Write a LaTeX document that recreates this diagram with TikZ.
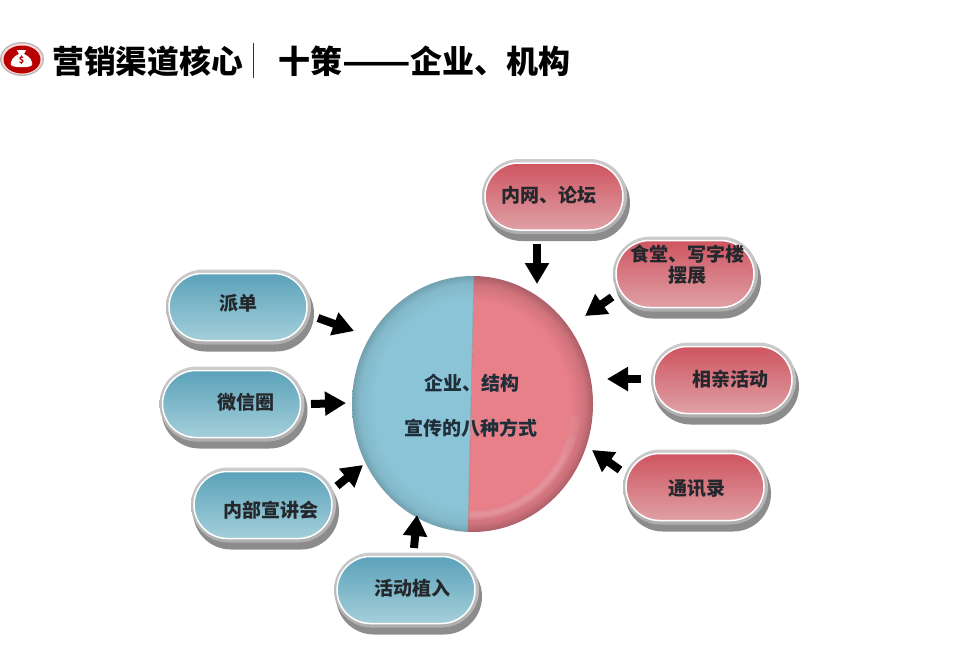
\documentclass[tikz,border=0pt]{standalone}
\usepackage{fontspec}
\usepackage{graphicx}
\setmainfont{Noto Sans CJK SC}
\usetikzlibrary{arrows.meta,shapes.geometric,shapes.misc}
\definecolor{rtop}{HTML}{CE5560}
\definecolor{rbot}{HTML}{E0A0A6}
\definecolor{btop}{HTML}{5BA2BA}
\definecolor{bbot}{HTML}{A4CFDA}
\definecolor{bluemain}{HTML}{8BC4D6}
\definecolor{pinkmain}{HTML}{E8808A}
\definecolor{inkdark}{HTML}{24282C}
\definecolor{hubink}{HTML}{1F2E38}
\pgfdeclareradialshading{bluedisc}{\pgfpoint{0bp}{0bp}}{color(0bp)=(bluemain); color(20.5bp)=(bluemain); color(23.5bp)=(bluemain!94!black); color(25bp)=(bluemain!82!black); color(50bp)=(bluemain!82!black)}
\pgfdeclareradialshading{pinkdisc}{\pgfpoint{0bp}{0bp}}{color(0bp)=(pinkmain); color(20bp)=(pinkmain); color(23.2bp)=(pinkmain!90!black); color(25bp)=(pinkmain!74!black); color(50bp)=(pinkmain!74!black)}
\tikzset{
  pillshadow/.style={rounded rectangle,inner sep=0pt,minimum width=146pt,minimum height=76pt,fill=black!45},
  pillrim/.style={rounded rectangle,inner sep=0pt,minimum width=145pt,minimum height=75pt,top color=black!20,bottom color=black!32},
  pillred/.style={rounded rectangle,inner sep=0pt,minimum width=138pt,minimum height=67pt,draw=white,line width=1.5pt,top color=rtop,bottom color=rbot},
  pillblue/.style={rounded rectangle,inner sep=0pt,minimum width=138pt,minimum height=67pt,draw=white,line width=1.5pt,top color=btop,bottom color=bbot},
  pilltext/.style={font=\fontsize{19}{21}\selectfont\bfseries,text=inkdark,inner sep=0pt,align=center},
  hubtext/.style={font=\fontsize{19}{21}\selectfont\bfseries,text=hubink,inner sep=0pt},
  arrowfat/.style={line width=8pt,black,-{Triangle[length=21pt,width=23pt]}},
  headtext/.style={font=\fontsize{31.8}{34}\selectfont\bfseries,text=black,inner sep=0pt,anchor=west},
}
\newcommand{\mypill}[4]{%
  \node[pillshadow] at (#2+3,#3+6.5) {};
  \node[pillrim] at (#2+.5,#3) {};
  \node[#4] (#1) at (#2,#3) {};
}
\begin{document}
\begin{tikzpicture}[x=1pt,y=-1pt]
\useasboundingbox (0,0) rectangle (960,646);
\fill[white] (0,0) rectangle (960,646);

% logo
\fill[black!28] (22,59) ellipse (22 and 17);
\fill[white!85!red] (22,59) ellipse (20.5 and 15.5);
\fill[red!72!black] (22,59.5) ellipse (18.5 and 14);
\fill[white] (17,50) -- (26,50) -- (24,54) .. controls (30,56) and (33,62) .. (32,65)
  .. controls (31,68) and (13,68) .. (11,65) .. controls (10,62) and (13,56) .. (19,54) -- cycle;
\node[font=\fontsize{9}{9}\selectfont\bfseries,text=red!72!black,inner sep=0pt] (dollar) at (21.5,60) {\$};

% heading
\node[headtext] (head1) at (52,61) {营销渠道核心};
\draw[black!80,line width=0.8pt] (253,43) -- (253,78);
\node[headtext,font=\fontsize{32}{34}\selectfont\bfseries] (head2) at (278,61) {十策\scalebox{1.25}[1]{——}企业、机构};

% pills
\mypill{neiwang}{554}{196.5}{pillred}
\mypill{shitang}{685}{274}{pillred}
\mypill{xiangqin}{723}{380}{pillred}
\mypill{tongxun}{695}{487}{pillred}
\mypill{paidan}{238}{307}{pillblue}
\mypill{weixin}{231.5}{404}{pillblue}
\mypill{neibu}{263}{505}{pillblue}
\mypill{huodong}{406}{590}{pillblue}

\node[pilltext] at (548.5,195) {内网、论坛};
\node[pilltext] at (687.5,254) {食堂、写字楼};
\node[pilltext] at (687,275) {摆展};
\node[pilltext] at (730,379) {相亲活动};
\node[pilltext] at (696.5,489) {通讯录};
\node[pilltext] at (238,303) {派单};
\node[pilltext] at (245.5,402) {微信圈};
\node[pilltext] at (270.5,510) {内部宣讲会};
\node[pilltext] at (412,588) {活动植入};

% hub
\node[ellipse,minimum width=241pt,minimum height=256pt,inner sep=0pt] (hub) at (472.5,404) {};
\begin{scope}
  \clip (474.3,270) -- (467.7,540) -- (340,540) -- (340,270) -- cycle;
  \shade[shading=bluedisc] (472.5,404) ellipse (120.5 and 128);
\end{scope}
\begin{scope}
  \clip (474.3,270) -- (467.7,540) -- (600,540) -- (600,270) -- cycle;
  \shade[shading=pinkdisc] (472.5,404) ellipse (120.5 and 128);
  \draw[white,opacity=.06,line width=10pt,line cap=round] plot[domain=8:98,samples=40] ({472.5+104*cos(\x)},{404+111*sin(\x)});
  \draw[white,opacity=.07,line width=7pt,line cap=round] plot[domain=18:94,samples=40] ({472.5+104*cos(\x)},{404+111*sin(\x)});
  \draw[white,opacity=.08,line width=4pt,line cap=round] plot[domain=28:90,samples=40] ({472.5+104*cos(\x)},{404+111*sin(\x)});
\end{scope}
\draw[black!45,opacity=.6,line width=0.8pt] (474,276) -- (468,532);
\node[hubtext] at (471.5,383) {企业、结构};
\node[hubtext] at (471,428) {宣传的八种方式};

% arrows
\coordinate (a1) at (537,244); \coordinate (b1) at (537,284);
\coordinate (a2) at (612,297); \coordinate (b2) at (585,316);
\coordinate (a3) at (641,379); \coordinate (b3) at (607,379);
\coordinate (a4) at (620,470); \coordinate (b4) at (592,450);
\coordinate (a5) at (318,318); \coordinate (b5) at (354,331);
\coordinate (a6) at (311,404); \coordinate (b6) at (346,403);
\coordinate (a7) at (337,486); \coordinate (b7) at (363,465);
\coordinate (a8) at (414,548); \coordinate (b8) at (417,515);
\foreach \i in {1,...,8} \draw[arrowfat] (a\i) -- (b\i);
\end{tikzpicture}
\end{document}
